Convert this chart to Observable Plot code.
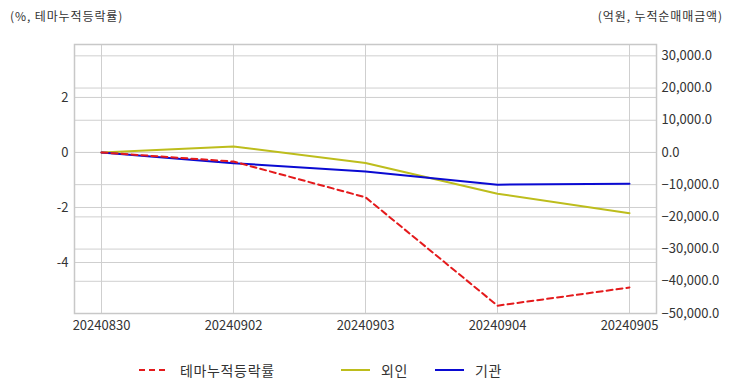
<!DOCTYPE html>
<html><head><meta charset="utf-8">
<script src="https://cdn.jsdelivr.net/npm/d3@7"></script>
<script src="https://cdn.jsdelivr.net/npm/@observablehq/plot@0.6"></script>
<style>
body{margin:0;background:#fff;font-family:"Noto Sans CJK KR","Noto Sans",sans-serif;color:#333}
#wrap{position:relative;width:732px;height:392px}
#wrap svg.plot{position:absolute;left:0;top:0}
.ttl{position:absolute;top:7px;font-size:12px;letter-spacing:0.9px;color:#333;white-space:nowrap}
.leg{position:absolute;top:360px;font-size:14px;letter-spacing:0.65px;color:#333;white-space:nowrap;display:flex;align-items:center}
</style></head>
<body><div id="wrap"></div>
<script>
const dates = ["20240830","20240902","20240903","20240904","20240905"];
const themeReturn = [0, -0.33, -1.63, -5.57, -4.91];          // %, left axis
const foreign = [0, 1860, -3250, -12800, -18850];               // 억원, right axis
const institution = [0, -3320, -5900, -10000, -9750];          // 억원, right axis
const leftTicks = [-4, -2, 0, 2];
const rightTicks = [-50000, -40000, -30000, -20000, -10000, 0, 10000, 20000, 30000];
const seriesNames = ["테마누적등락률", "외인", "기관"];
const seriesColors = ["#e41a1c", "#bdbd1c", "#0a0ad2"];

const k = 32.2 / (27.5 * 10000); // right-axis value -> left-axis units
const yDomain = [-50000 * k, 33520 * k];

const rows = (vals, conv) => dates.map((d, i) => ({date: d, v: conv(vals[i])}));
const rTheme = rows(themeReturn, v => v);
const rForeign = rows(foreign, v => v * k);
const rInst = rows(institution, v => v * k);

const grid = "#cfcfcf";
const chart = Plot.plot({
  width: 732, height: 392,
  marginLeft: 74, marginRight: 76, marginTop: 44, marginBottom: 79,
  style: {fontFamily: '"Noto Sans CJK KR","Noto Sans",sans-serif', fontSize: "13px", color: "#333", background: "#fff"},
  x: {type: "point", domain: dates, padding: 0.2045},
  y: {domain: yDomain},
  marks: [
    Plot.gridX(dates, {stroke: grid, strokeOpacity: 1}),
    Plot.gridY(leftTicks, {stroke: grid, strokeOpacity: 1}),
    Plot.gridY(rightTicks.map(v => v * k), {stroke: grid, strokeOpacity: 1}),
    Plot.frame({stroke: "#c8c8c8", strokeWidth: 1.5}),
    Plot.axisX(dates, {tickSize: 0, tickPadding: 7, label: null, fill: "#333"}),
    Plot.axisY(leftTicks, {anchor: "left", tickSize: 0, tickPadding: 6, label: null, fill: "#333", tickFormat: d => String(d)}),
    Plot.axisY(rightTicks.map(v => v * k), {anchor: "right", tickSize: 0, tickPadding: 5, label: null, fill: "#333",
      tickFormat: d => d3.format(",.1f")(Math.round(d / k / 1000) * 1000)}),
    Plot.line(rForeign, {x: "date", y: "v", stroke: seriesColors[1], strokeWidth: 2}),
    Plot.line(rInst, {x: "date", y: "v", stroke: seriesColors[2], strokeWidth: 2}),
    Plot.line(rTheme, {x: "date", y: "v", stroke: seriesColors[0], strokeWidth: 2, strokeDasharray: "6,4"})
  ]
});
chart.classList.add("plot");
const wrap = document.getElementById("wrap");
wrap.appendChild(chart);

function addText(cls, txt, styles) {
  const el = document.createElement("div");
  el.className = cls; el.textContent = txt;
  Object.assign(el.style, styles); wrap.appendChild(el); return el;
}
addText("ttl", "(%, 테마누적등락률)", {left: "10px"});
addText("ttl", "(억원, 누적순매매금액)", {right: "9px"});

const legPos = [{sx: 139, tx: 180}, {sx: 341, tx: 381}, {sx: 435, tx: 475}];
seriesNames.forEach((name, i) => {
  const ns = "http://www.w3.org/2000/svg";
  const s = document.createElementNS(ns, "svg");
  s.setAttribute("width", 30); s.setAttribute("height", 20);
  Object.assign(s.style, {position: "absolute", left: legPos[i].sx + "px", top: "360px"});
  const l = document.createElementNS(ns, "line");
  l.setAttribute("x1", 0); l.setAttribute("x2", 29); l.setAttribute("y1", 10); l.setAttribute("y2", 10);
  l.setAttribute("stroke", seriesColors[i]); l.setAttribute("stroke-width", 2);
  if (i === 0) l.setAttribute("stroke-dasharray", "6,4");
  s.appendChild(l); wrap.appendChild(s);
  addText("leg", name, {left: legPos[i].tx + "px", height: "20px"});
});
</script></body></html>
